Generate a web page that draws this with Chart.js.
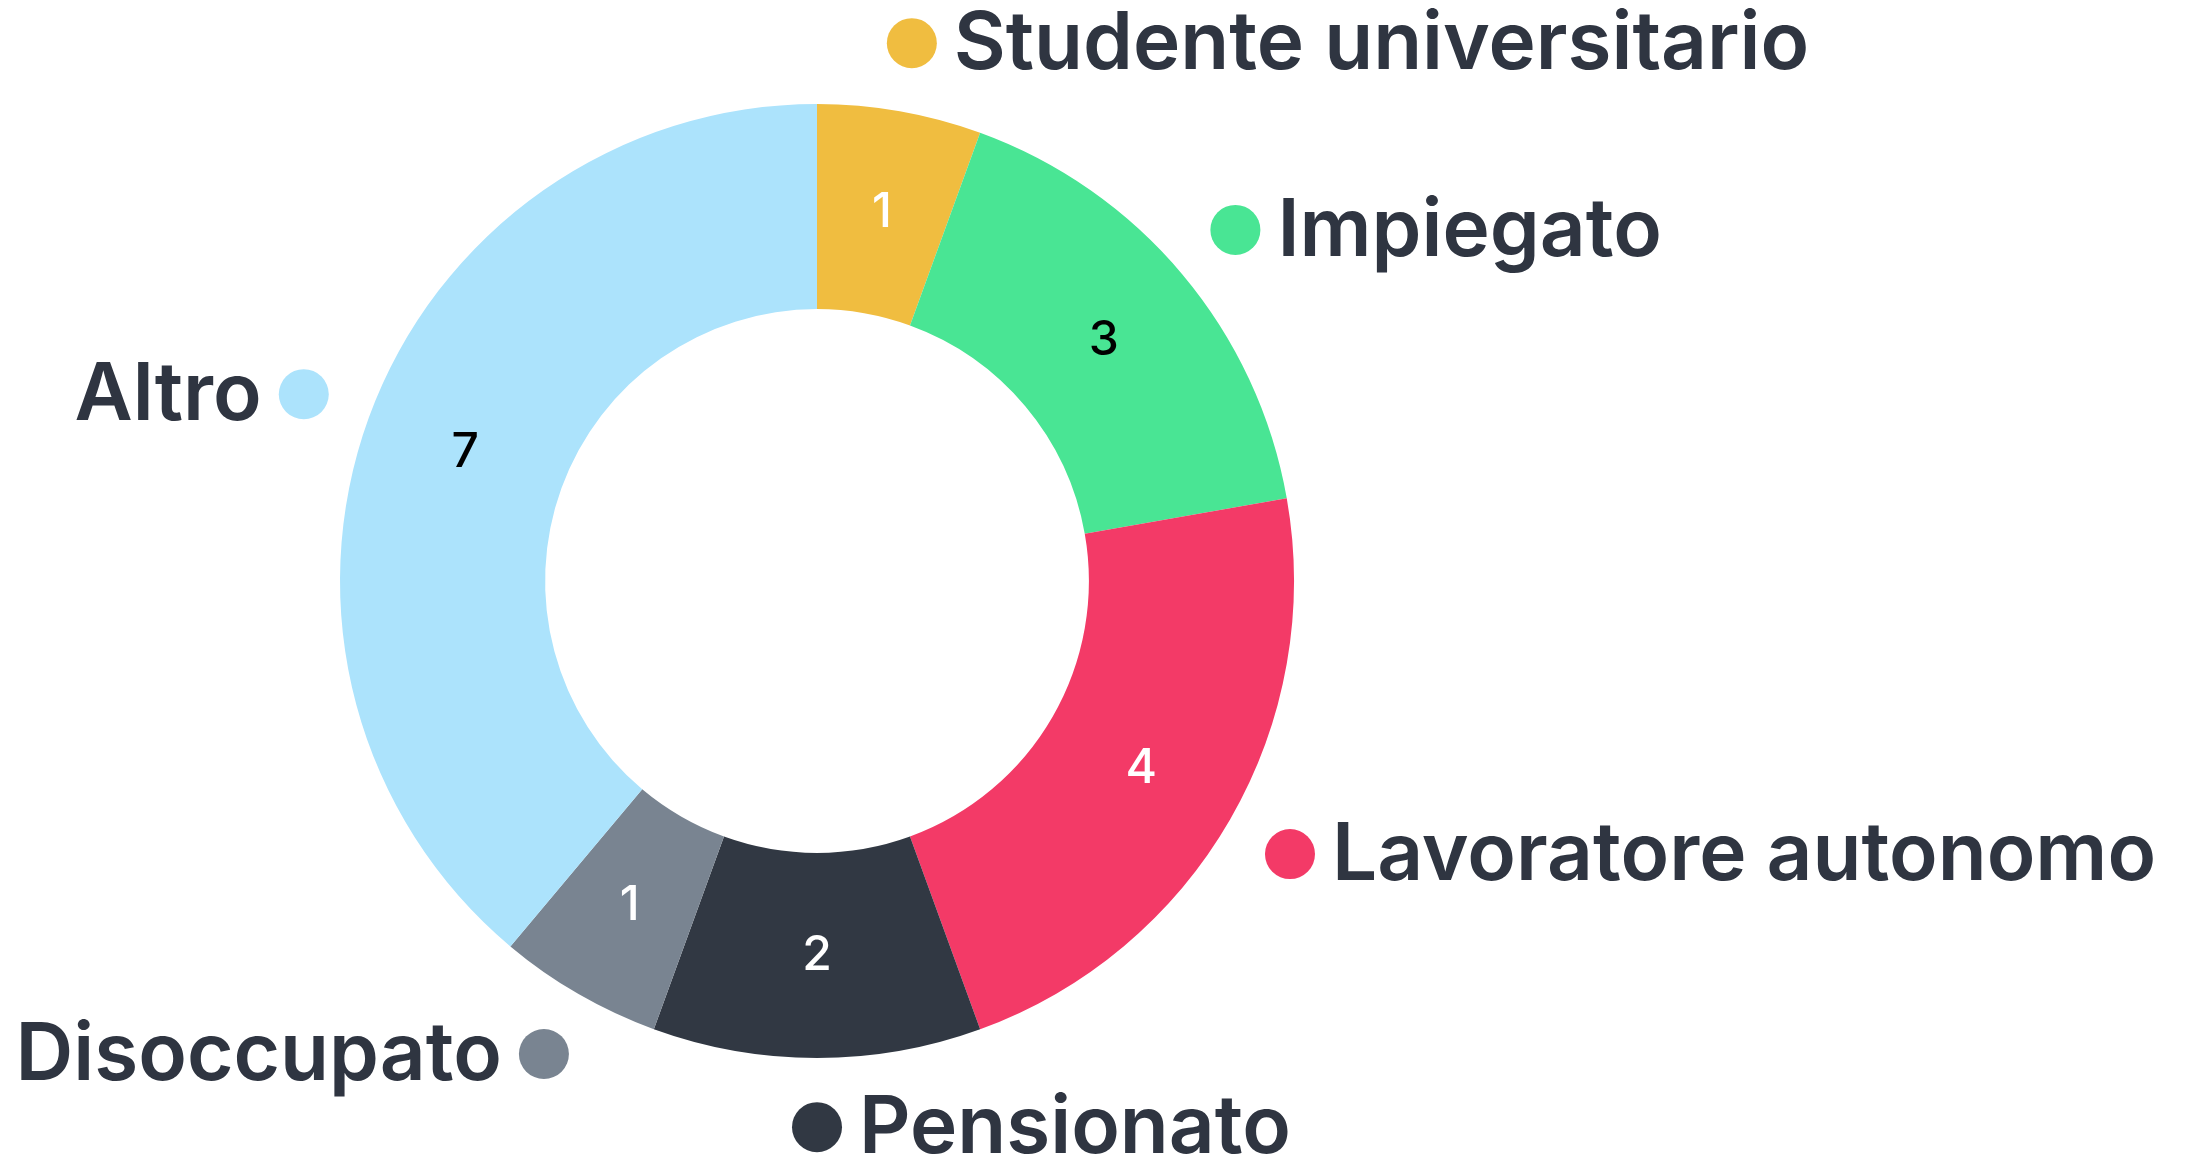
<!DOCTYPE html>
<html>
<head>
<meta charset="utf-8">
<script src="https://cdn.jsdelivr.net/npm/chart.js@4.4.1/dist/chart.umd.min.js"></script>
<style>
  html, body { margin: 0; padding: 0; background: #fff; }
  #wrap { width: 2189px; height: 1167px; position: relative; }
</style>
</head>
<body>
<div id="wrap"><canvas id="jobChart"></canvas></div>
<script>
const labels = ['Studente universitario', 'Impiegato', 'Lavoratore autonomo', 'Pensionato', 'Disoccupato', 'Altro'];
const counts = [1, 3, 4, 2, 1, 7];
const colors = ['#F0BD40', '#49E594', '#F33A67', '#313843', '#798491', '#ACE3FC'];
const valueColors = ['#ffffff', '#000000', '#ffffff', '#ffffff', '#ffffff', '#000000'];

// draws the numbers in the ring and the dot + name outside each slice
const sliceLabels = {
  id: 'sliceLabels',
  afterDatasetsDraw(chart) {
    const ctx = chart.ctx;
    const meta = chart.getDatasetMeta(0);
    meta.data.forEach((arc, i) => {
      const mid = (arc.startAngle + arc.endAngle) / 2;
      const cx = arc.x, cy = arc.y;
      const rMid = (arc.innerRadius + arc.outerRadius) / 2;

      ctx.save();
      ctx.font = '500 48px Inter';
      ctx.fillStyle = valueColors[i];
      ctx.textAlign = 'center';
      ctx.textBaseline = 'middle';
      ctx.fillText(String(counts[i]), cx + Math.cos(mid) * rMid, cy + Math.sin(mid) * rMid);

      const rDot = arc.outerRadius * 1.145;
      const dx = cx + Math.cos(mid) * rDot;
      const dy = cy + Math.sin(mid) * rDot;
      ctx.beginPath();
      ctx.arc(dx, dy, 25, 0, Math.PI * 2);
      ctx.fillStyle = colors[i];
      ctx.fill();

      ctx.font = '600 80px Inter';
      ctx.fillStyle = '#2F3541';
      ctx.textBaseline = 'middle';
      if (Math.cos(mid) > -0.01) {
        ctx.textAlign = 'left';
        ctx.fillText(labels[i], dx + 42, dy + 2);
      } else {
        ctx.textAlign = 'right';
        ctx.fillText(labels[i], dx - 42, dy + 2);
      }
      ctx.restore();
    });
  }
};

const data = {
  labels: labels,
  datasets: [{
    data: counts,
    backgroundColor: colors,
    borderWidth: 0,
    hoverOffset: 0
  }]
};

const config = {
  type: 'doughnut',
  data: data,
  options: {
    responsive: true,
    maintainAspectRatio: false,
    animation: false,
    cutout: '57%',
    plugins: {
      legend: { display: false },
      tooltip: { enabled: false }
    },
    layout: {
      padding: { top: 104, bottom: 109, left: 340, right: 895 }
    }
  },
  plugins: [sliceLabels]
};

const jobChart = new Chart(document.getElementById('jobChart'), config);
</script>
</body>
</html>
